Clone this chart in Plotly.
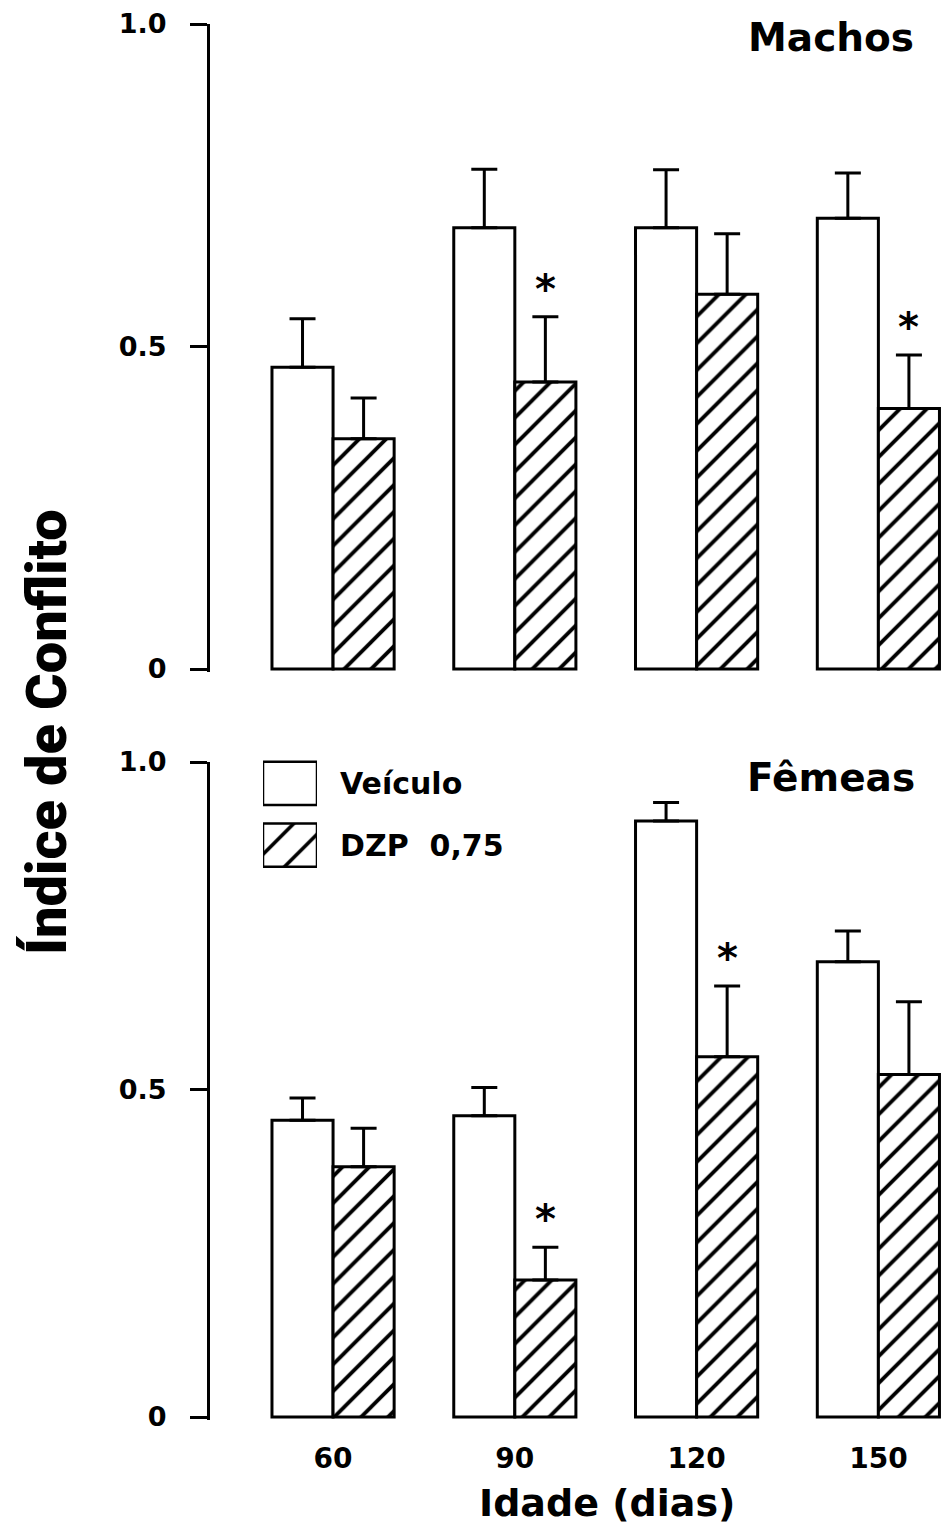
import plotly.graph_objects as go

# Conflict index by age, vehicle vs. diazepam, males and females
ages = ["60", "90", "120", "150"]

machos_veiculo = [0.468, 0.684, 0.684, 0.699]
machos_veiculo_ep = [0.075, 0.091, 0.090, 0.070]
machos_dzp = [0.357, 0.445, 0.581, 0.404]
machos_dzp_ep = [0.063, 0.101, 0.094, 0.083]
machos_sig = [False, True, False, True]

femeas_veiculo = [0.453, 0.460, 0.910, 0.695]
femeas_veiculo_ep = [0.034, 0.043, 0.028, 0.047]
femeas_dzp = [0.382, 0.209, 0.550, 0.523]
femeas_dzp_ep = [0.059, 0.050, 0.108, 0.111]
femeas_sig = [False, True, True, False]

y_ticks = [0, 0.5, 1.0]
y_ticktext = ["0", "0.5", "1.0"]

W, H = 942, 1525
FONT = "DejaVu Sans, Verdana, sans-serif"
BAR_W = 0.336
Y_MIN = -0.005

HATCH = dict(shape="/", size=19, solidity=0.2, fgcolor="black",
             bgcolor="white", fgopacity=1)


def ydomain(px_zero, px_one, y_min=Y_MIN):
    k = px_zero - px_one
    px_bottom = px_zero - y_min * k
    return [(H - px_bottom) / H, (H - px_one) / H]


x_pos = list(range(len(ages)))

fig = go.Figure()


def add_panel(veic, veic_ep, dzp, dzp_ep, sig, xa, ya):
    fig.add_trace(go.Bar(
        x=x_pos, y=veic, width=BAR_W, offset=-BAR_W,
        marker=dict(color="white", line=dict(color="black", width=3)),
        error_y=dict(type="data", symmetric=False, array=veic_ep,
                     arrayminus=[0] * len(veic), color="black",
                     thickness=3, width=13),
        xaxis=xa, yaxis=ya, showlegend=False))
    fig.add_trace(go.Bar(
        x=x_pos, y=dzp, width=BAR_W, offset=0,
        marker=dict(color="white", pattern=HATCH,
                    line=dict(color="black", width=3)),
        error_y=dict(type="data", symmetric=False, array=dzp_ep,
                     arrayminus=[0] * len(dzp), color="black",
                     thickness=3, width=13),
        xaxis=xa, yaxis=ya, showlegend=False))
    for i, s in enumerate(sig):
        if s:
            fig.add_annotation(
                x=x_pos[i] + BAR_W / 2, y=dzp[i] + dzp_ep[i],
                xref=xa, yref=ya, text="<b>*</b>", showarrow=False,
                yanchor="middle", yshift=28,
                font=dict(family=FONT, size=40, color="black"))


add_panel(machos_veiculo, machos_veiculo_ep, machos_dzp, machos_dzp_ep,
          machos_sig, "x", "y")
add_panel(femeas_veiculo, femeas_veiculo_ep, femeas_dzp, femeas_dzp_ep,
          femeas_sig, "x2", "y2")

# legend keys drawn as a small bar subplot
legend_names = ["DZP&nbsp;&nbsp;0,75", "Veículo"]
fig.add_trace(go.Bar(
    y=[1], x=[1], orientation="h", width=0.7,
    marker=dict(color="white", line=dict(color="black", width=2.5)),
    xaxis="x3", yaxis="y3", showlegend=False, hoverinfo="skip"))
fig.add_trace(go.Bar(
    y=[0], x=[1], orientation="h", width=0.7,
    marker=dict(color="white", pattern=dict(HATCH, size=24, solidity=0.15),
                line=dict(color="black", width=2.5)),
    xaxis="x3", yaxis="y3", showlegend=False, hoverinfo="skip"))
for j, name in enumerate(legend_names):
    fig.add_annotation(x=338 / W, y=j, xref="paper", yref="y3",
                       text="<b>%s</b>" % name, showarrow=False,
                       xanchor="left", yanchor="middle",
                       font=dict(family=FONT, size=30, color="black"))

x_range = [-0.677, 3.35]
x_dom = [210 / W, 1.0]
axis_common = dict(showgrid=False, zeroline=False, automargin=False)

yaxis_style = dict(
    axis_common, range=[Y_MIN, 1.0], tickvals=y_ticks, ticktext=y_ticktext,
    ticks="outside", ticklen=17, tickwidth=3, tickcolor="black",
    showline=True, linewidth=3, linecolor="black",
    ticklabelstandoff=18,
    tickfont=dict(family=FONT, size=27, color="black", weight="bold"))

fig.update_layout(
    width=W, height=H, autosize=False,
    margin=dict(l=0, r=0, t=0, b=0, pad=0, autoexpand=False),
    paper_bgcolor="white", plot_bgcolor="rgba(0,0,0,0)",
    barmode="overlay",
    xaxis=dict(axis_common, domain=x_dom, range=x_range, showline=False,
               showticklabels=False, ticks="", anchor="y"),
    yaxis=dict(yaxis_style, domain=ydomain(669, 24), anchor="x"),
    xaxis2=dict(axis_common, domain=x_dom, range=x_range, showline=False,
                tickvals=x_pos, ticktext=ages, ticks="",
                ticklabelstandoff=19, anchor="y2",
                tickfont=dict(family=FONT, size=28, color="black",
                              weight="bold")),
    yaxis2=dict(yaxis_style, domain=ydomain(1417, 762), anchor="x2"),
    xaxis3=dict(axis_common, domain=[263 / W, 317 / W], range=[0, 1],
                visible=False, anchor="y3"),
    yaxis3=dict(axis_common, domain=[(H - 876) / H, (H - 752.5) / H],
                range=[-0.5, 1.5], visible=False, anchor="x3"),
)

fig.add_annotation(x=831 / W, y=(H - 38) / H, xref="paper", yref="paper",
                   text="<b>Machos</b>", showarrow=False,
                   xanchor="center", yanchor="middle",
                   font=dict(family=FONT, size=39, color="black"))
fig.add_annotation(x=831 / W, y=(H - 778) / H, xref="paper", yref="paper",
                   text="<b>Fêmeas</b>", showarrow=False,
                   xanchor="center", yanchor="middle",
                   font=dict(family=FONT, size=39, color="black"))
fig.add_annotation(x=607 / W, y=(H - 1503) / H, xref="paper", yref="paper",
                   text="<b>Idade (dias)</b>", showarrow=False,
                   xanchor="center", yanchor="middle",
                   font=dict(family=FONT, size=38, color="black"))
fig.add_annotation(x=47 / W, y=(H - 732) / H, xref="paper", yref="paper",
                   text="Índice de Conflito", showarrow=False,
                   textangle=-90, xanchor="center", yanchor="middle",
                   font=dict(family="Roboto, Liberation Sans, sans-serif",
                             size=56, color="black", weight=900))

fig.write_html("out.html")
